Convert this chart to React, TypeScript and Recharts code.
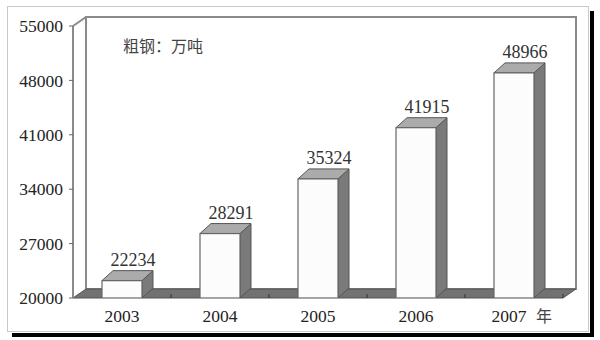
import React from 'react';
import { BarChart, Bar, XAxis, YAxis, ReferenceArea, LabelList } from 'recharts';

const years = ['2003', '2004', '2005', '2006', '2007'];
const steel = [22234, 28291, 35324, 41915, 48966];
const yTicks = [20000, 27000, 34000, 41000, 48000, 55000];
const unitLabel = '粗钢：万吨';
const yearUnit = '年';

const data = years.map((y, i) => ({ year: y, value: steel[i] }));

const BDX = 11;
const BDY = 10;
const FDX = 13;
const FDY = 9;
const SERIF = '"Liberation Serif", "DejaVu Serif", serif';
const CJK = '"Noto Sans CJK SC", "Noto Sans", sans-serif';

const Bar3D = (props: any) => {
  const { x, y, width, height } = props;
  const b = y + height;
  const r = x + width;
  return (
    <g>
      <polygon
        points={`${r},${y} ${r + BDX},${y - BDY} ${r + BDX},${b - BDY} ${r},${b}`}
        fill="#7a7a7a"
        stroke="#555"
        strokeWidth={1}
      />
      <polygon
        points={`${x},${y} ${x + BDX},${y - BDY} ${r + BDX},${y - BDY} ${r},${y}`}
        fill="#ababab"
        stroke="#555"
        strokeWidth={1}
      />
      <rect x={x} y={y} width={width} height={height} fill="#fcfcfc" stroke="#666" strokeWidth={1.2} />
    </g>
  );
};

const Walls = (props: any) => {
  const { x, y, width, height } = props;
  const b = y + height;
  const r = x + width;
  const n = years.length;
  const ticks = [];
  for (let k = 1; k <= n; k++) {
    const tx = x + (width * k) / n;
    ticks.push(<line key={k} x1={tx} y1={b} x2={tx} y2={b - 4} stroke="#333" strokeWidth={1} />);
  }
  return (
    <g>
      <rect x={x + FDX} y={y - FDY} width={width} height={height} fill="#fff" stroke="#8a8a8a" strokeWidth={2} />
      <line x1={x} y1={y} x2={x + FDX} y2={y - FDY} stroke="#8a8a8a" strokeWidth={2} />
      <polygon
        points={`${x},${b} ${x + FDX},${b - FDY} ${r + FDX},${b - FDY} ${r},${b}`}
        fill="#727272"
        stroke="#555"
        strokeWidth={1}
      />
      {ticks}
    </g>
  );
};

const YearTick = (props: any) => {
  const { x, y, payload } = props;
  const last = payload.value === years[years.length - 1];
  return (
    <g>
      <text x={last ? x - 5 : x} y={y} dy={12} textAnchor="middle" fontFamily={SERIF} fontSize={17.5} fill="#222">
        {payload.value}
      </text>
      {last && (
        <text x={x + 30} y={y} dy={12} textAnchor="middle" fontFamily={CJK} fontSize={16} fill="#444">
          {yearUnit}
        </text>
      )}
    </g>
  );
};

const ValueLabel = (props: any) => {
  const { x, y, width, value } = props;
  return (
    <text x={x + width / 2 + BDX} y={y - 15} textAnchor="middle" fontFamily={SERIF} fontSize={18} fill="#333">
      {value}
    </text>
  );
};

export default function App() {
  return (
    <div style={{ position: 'absolute', left: 0, top: 0, width: 600, height: 340, background: '#fff' }}>
      <div
        style={{
          position: 'absolute',
          left: 7,
          top: 6,
          width: 580,
          height: 324,
          border: '1px solid #c8c8c8',
          background: '#fff',
          boxShadow: '1px 1px 0 0 #fff, 5px 5px 0 0 #000',
        }}
      />
      <div style={{ position: 'absolute', left: 0, top: 0 }}>
        <BarChart width={600} height={340} data={data} margin={{ top: 26, right: 37, bottom: 12, left: 13 }}>
          <ReferenceArea y1={20000} y2={55000} ifOverflow="visible" shape={<Walls />} zIndex={-10} />
          <XAxis
            dataKey="year"
            height={30}
            axisLine={false}
            tickLine={false}
            tickSize={0}
            tickMargin={12}
            tick={<YearTick />}
            interval={0}
          />
          <YAxis
            width={60}
            domain={[20000, 55000]}
            ticks={yTicks}
            allowDataOverflow
            axisLine={{ stroke: '#8a8a8a', strokeWidth: 2 }}
            tickLine={{ stroke: '#666' }}
            tickSize={4}
            tickMargin={6}
            tick={{ fontFamily: SERIF, fontSize: 17.5, fill: '#222' }}
          />
          <Bar dataKey="value" barSize={40} shape={<Bar3D />} isAnimationActive={false}>
            <LabelList dataKey="value" content={<ValueLabel />} />
          </Bar>
        </BarChart>
      </div>
      <div
        style={{
          position: 'absolute',
          left: 123,
          top: 36,
          fontFamily: CJK,
          fontSize: 16,
          lineHeight: '18px',
          color: '#444',
          whiteSpace: 'nowrap',
        }}
      >
        {unitLabel}
      </div>
    </div>
  );
}
